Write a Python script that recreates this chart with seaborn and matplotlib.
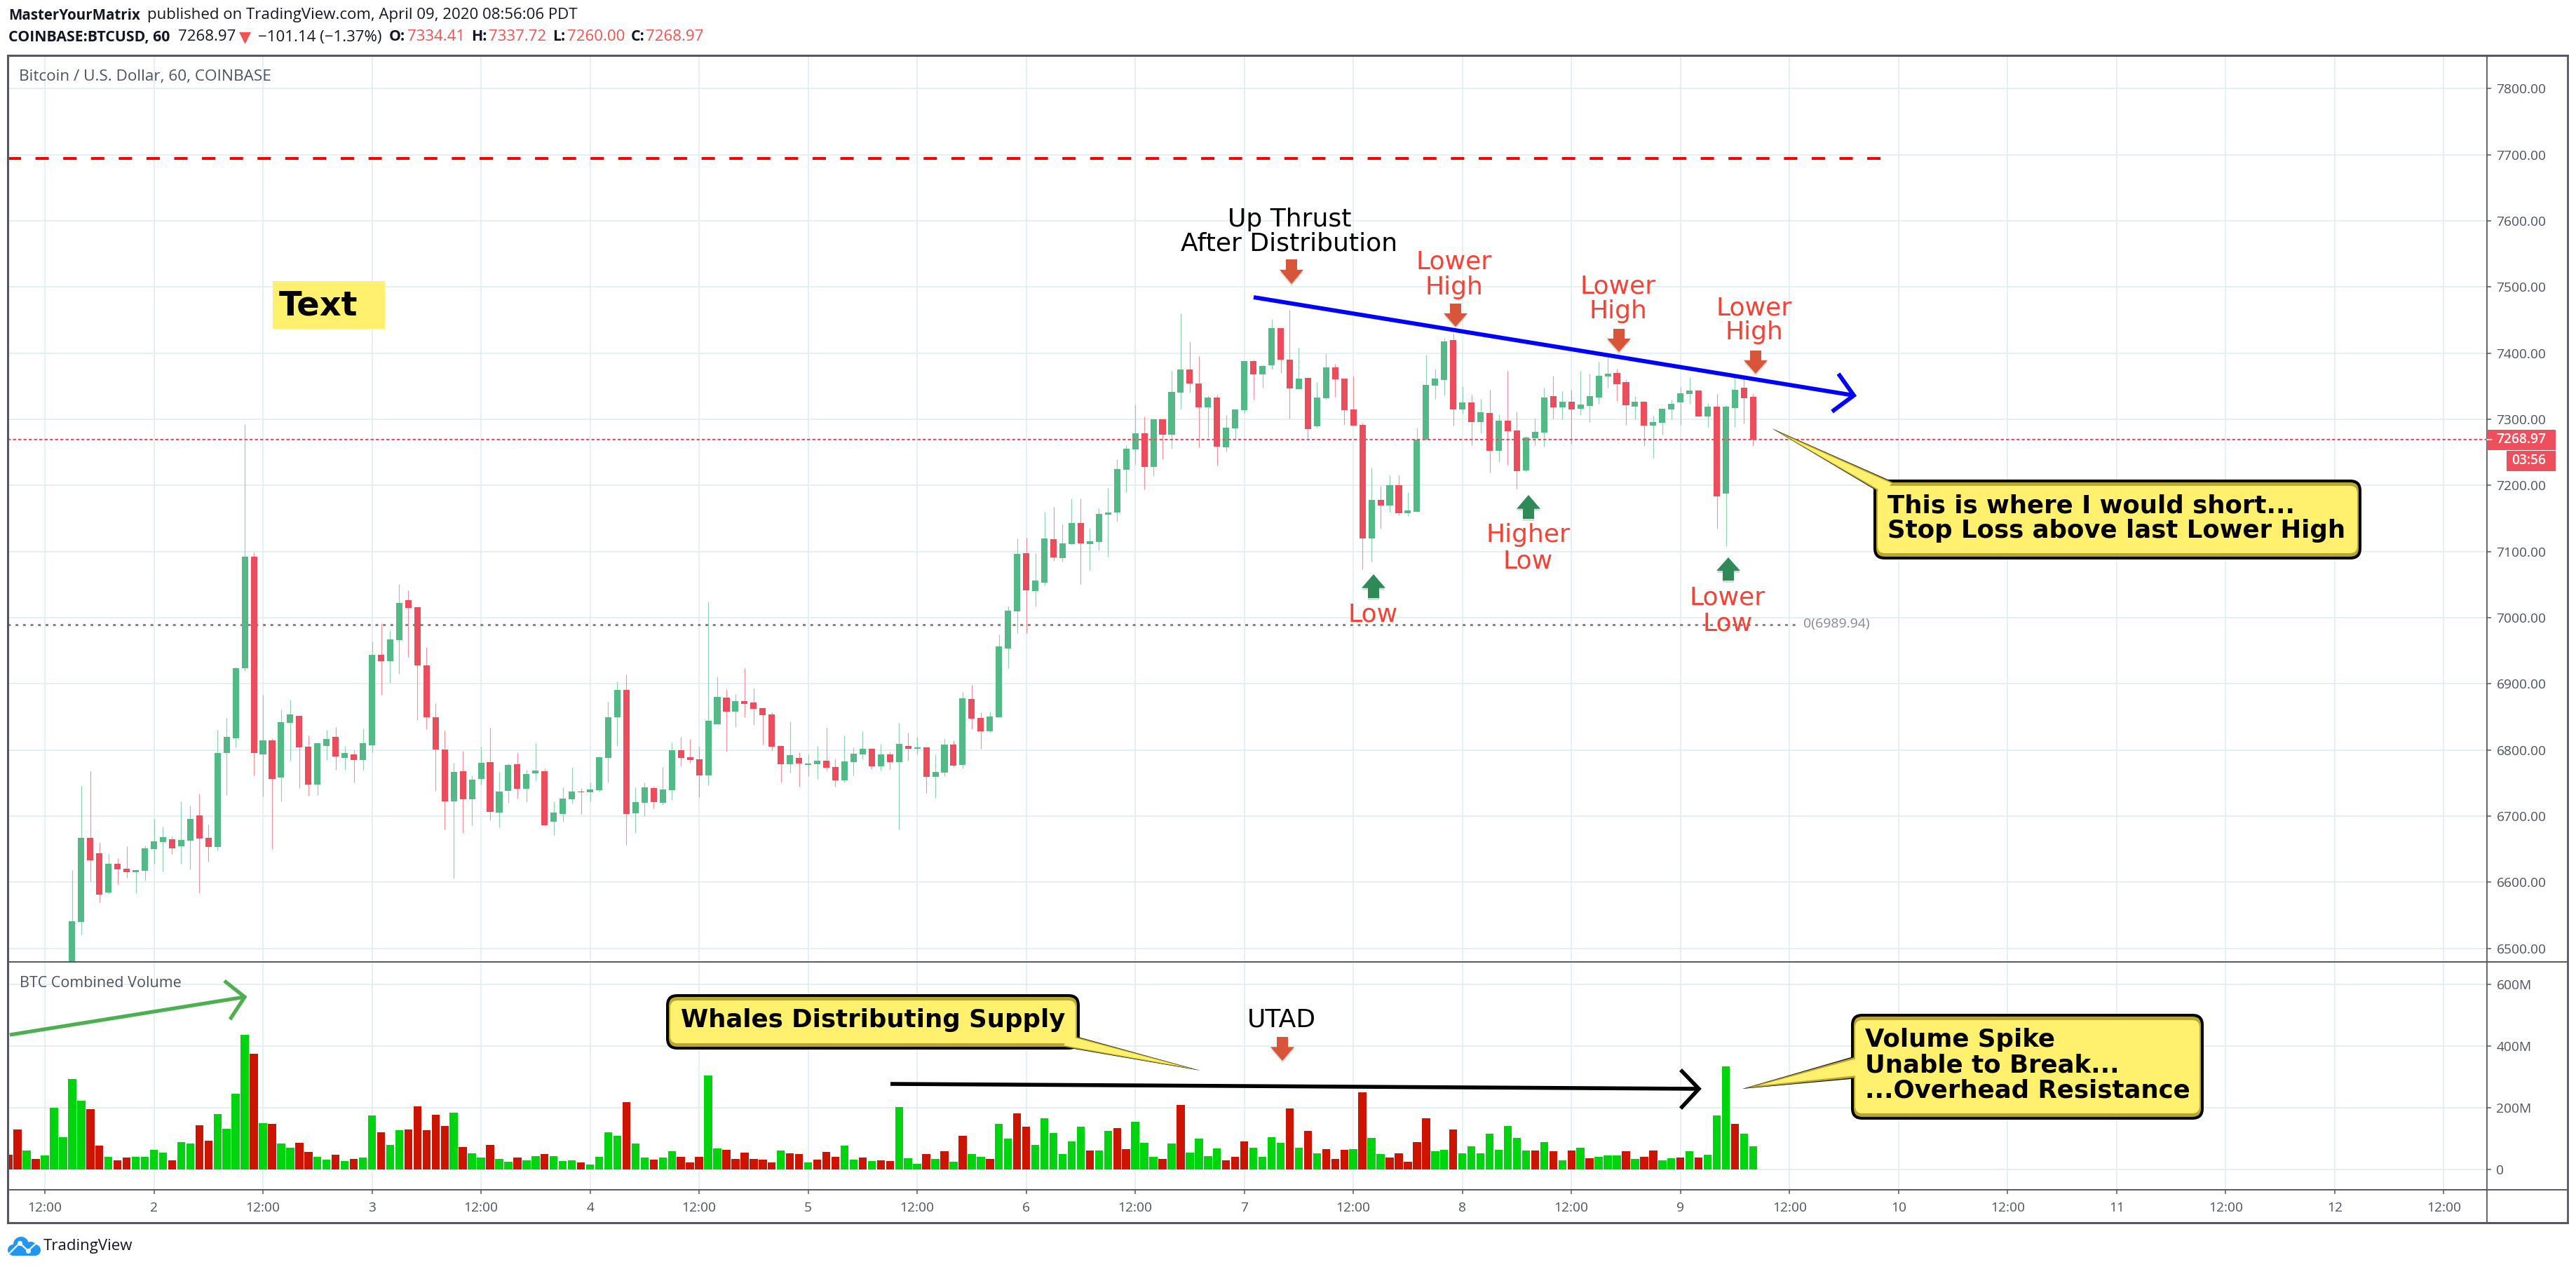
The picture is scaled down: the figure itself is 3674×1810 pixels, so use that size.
import numpy as np
import matplotlib
matplotlib.use("Agg")
import matplotlib.pyplot as plt
import seaborn as sns
from matplotlib.patches import FancyBboxPatch, Polygon, Rectangle, Circle

# hourly candles, hour 0 = day 1 00:00
first_candle_hour = 15
opens = [
    6400, 6540, 6667, 6644, 6585, 6628, 6621, 6615, 6618, 6650,
    6661, 6665, 6655, 6663, 6701, 6667, 6653, 6795, 6818, 6924,
    7092, 6793.6, 6815, 6758.7, 6841, 6852, 6805, 6748, 6806, 6820,
    6788.5, 6793.6, 6785, 6807.7, 6944, 6934.8, 6965.8, 7026.6, 7015.9, 6927.5,
    6849.9, 6800.9, 6722.7, 6768.3, 6725.5, 6756.5, 6781.8, 6705.3, 6738.4, 6779,
    6741.8, 6764.9, 6768.3, 6691.8, 6703.8, 6726, 6737.7, 6736.6, 6739.8, 6788.5,
    6850, 6891.3, 6704.9, 6720.8, 6743, 6720.8, 6739.8, 6800.2, 6789.6, 6786.4,
    6762.1, 6839.4, 6879.6, 6858.4, 6874.3, 6872.2, 6863.7, 6854.2, 6806.5, 6779,
    6788.5, 6778, 6779, 6784.3, 6774.8, 6754.6, 6782.2, 6793.8, 6802.3, 6775.8,
    6793.8, 6782.2, 6806.5, 6802.3, 6804.4, 6760, 6766.3, 6808.7, 6778, 6877.5,
    6848.9, 6828.8, 6850, 6953.7, 7009.6, 7097.7, 7040.6, 7053.1, 7118.8, 7090.1,
    7111.3, 7143, 7111.3, 7114.7, 7155.9, 7158.9, 7223.5, 7254.1, 7278.7, 7227.7,
    7299.9, 7276.4, 7339.9, 7374.7, 7353.5, 7317.6, 7332.4, 7257.5, 7285.9, 7313.5,
    7387.5, 7367.5, 7381.1, 7437.4, 7390.5, 7345.2, 7362.2, 7289.3, 7331.6, 7378.1,
    7361.1, 7314.6, 7291.2, 7120, 7178.2, 7169.5, 7200, 7157.8, 7160, 7268.9,
    7350.5, 7358.8, 7419.3, 7314.6, 7325.9, 7295.9, 7309.9, 7252.2, 7298.2, 7283.3,
    7222.5, 7271.5, 7279.9, 7335.4, 7318.3, 7326.7, 7316, 7320.6, 7333.1, 7365,
    7370.4, 7356.3, 7319.4, 7326.7, 7290.6, 7294.7, 7315.3, 7325.9, 7338.4, 7343.8,
    7304.6, 7319.4, 7187.6, 7317.2, 7347.2, 7334.41,
]
highs = [
    6619, 6746, 6768, 6660, 6643, 6637, 6655, 6620, 6656, 6696,
    6684, 6669, 6722, 6716, 6734, 6687, 6831, 6849, 6926, 7293,
    7098.6, 6883, 6818, 6861.7, 6875.7, 6852, 6822, 6811, 6831, 6835,
    6806.5, 6800, 6833, 6963.5, 6991.7, 6981, 7050.8, 7041, 7016, 6956,
    6871, 6829, 6781, 6799, 6762, 6805.4, 6834, 6766.6, 6780, 6795.8,
    6770.5, 6810.5, 6771.7, 6722.7, 6744, 6774.8, 6743, 6751.5, 6790, 6873.3,
    6904, 6914.6, 6744, 6751.5, 6745, 6774.8, 6811.8, 6820.3, 6817, 6805.5,
    7024.7, 6911.4, 6892.3, 6884.9, 6924.1, 6893.4, 6863.7, 6857.4, 6806.5, 6843.6,
    6797, 6793.8, 6806.5, 6834.1, 6787.5, 6822.4, 6804.4, 6828.8, 6802.3, 6809.7,
    6798, 6841.5, 6826.7, 6820.3, 6804.4, 6793.8, 6817.1, 6815, 6888.1, 6898.7,
    6857.4, 6858.4, 6974.9, 7017.3, 7119.6, 7120.7, 7097.7, 7160, 7167.6, 7141.1,
    7180, 7180, 7135.8, 7165.3, 7195.9, 7239.4, 7260.6, 7321.8, 7304, 7299.9,
    7300, 7372.8, 7460.5, 7418.1, 7395.8, 7335.8, 7336.9, 7305.9, 7314.6, 7387.5,
    7389.8, 7382.2, 7451, 7437.4, 7465.8, 7407.6, 7362.2, 7355.8, 7399.2, 7383.4,
    7361.1, 7365.2, 7294.6, 7226.5, 7199.3, 7215.2, 7215.2, 7189.5, 7287, 7397,
    7375.8, 7423.4, 7429.5, 7350.1, 7337.3, 7331.2, 7344.9, 7306.9, 7372.6, 7311.8,
    7274.2, 7301.2, 7347.9, 7366, 7342.6, 7344.1, 7372.6, 7369.2, 7387.1, 7397,
    7376.8, 7360, 7335.4, 7327, 7305.4, 7316, 7330, 7349, 7363.9, 7344,
    7324.8, 7338.4, 7321, 7363.9, 7365, 7337.72,
]
lows = [
    6380, 6521, 6602, 6570, 6583, 6597, 6607, 6584, 6603, 6628,
    6616, 6643, 6628, 6620, 6585, 6631, 6648, 6732, 6804, 6920,
    6762, 6730, 6650, 6722, 6784, 6743, 6731, 6732, 6785, 6770,
    6770, 6751, 6770, 6797, 6883, 6902, 6915, 6940.5, 6844.8, 6831.9,
    6738.4, 6679.9, 6605.7, 6674.9, 6686, 6748, 6694, 6683.3, 6720.4, 6726.6,
    6721.6, 6754.2, 6686, 6671.5, 6692, 6719.7, 6703.8, 6722.9, 6737.7, 6751.5,
    6806.5, 6657.2, 6675.2, 6700.6, 6712.3, 6717.6, 6725, 6775.8, 6781.1, 6729.2,
    6747.2, 6839.4, 6798, 6835.1, 6850, 6838.3, 6808.7, 6799.1, 6751.5, 6766.3,
    6745.1, 6761, 6756.8, 6769.5, 6745.1, 6751.5, 6762.1, 6786.4, 6771.6, 6769.5,
    6771.6, 6680.5, 6784.3, 6793.8, 6735.6, 6728.2, 6761, 6774.8, 6772.7, 6832,
    6802.3, 6826.7, 6850, 6924.1, 6977.1, 6977.1, 7017.2, 7048.9, 7086, 7084.8,
    7110.5, 7051.2, 7072.4, 7101.8, 7092.4, 7145.7, 7189.9, 7231.8, 7194, 7214,
    7239.4, 7255.3, 7314.6, 7339.9, 7257.5, 7272.3, 7229.9, 7251.1, 7268.9, 7309.7,
    7329.3, 7347.5, 7375.8, 7369.4, 7300.6, 7345.2, 7269.6, 7287, 7329.3, 7333.5,
    7291.2, 7290, 7073.1, 7084.8, 7134.7, 7160, 7154.7, 7154, 7160, 7268.1,
    7330.5, 7335.8, 7290, 7308.5, 7260.9, 7278.8, 7219.5, 7235.5, 7230.9, 7194.8,
    7220.3, 7260.9, 7258.6, 7301.2, 7300, 7262.8, 7306.5, 7295.9, 7323.6, 7348,
    7327.8, 7291.7, 7300, 7259.8, 7241.2, 7276.9, 7300, 7291.7, 7323.6, 7304,
    7288.7, 7135.1, 7108.5, 7288.7, 7293.6, 7260.0,
]
closes = [
    6541.5, 6667, 6633, 6581, 6628, 6620, 6615, 6619, 6651, 6662,
    6668, 6651, 6664, 6696, 6666, 6653, 6796, 6819.5, 6923.6, 7092,
    6796, 6815, 6756.5, 6842.6, 6854, 6804, 6748, 6810, 6817, 6790,
    6796, 6785, 6810.5, 6944, 6934, 6967, 7022, 7014.7, 6927.5, 6849.9,
    6800.3, 6722.7, 6767, 6725.5, 6755.3, 6781, 6706.4, 6737.3, 6777.8, 6741.8,
    6763.8, 6769.4, 6686.1, 6705, 6727, 6737.7, 6736.6, 6740.9, 6789.6, 6850,
    6891.3, 6703.8, 6721.8, 6744, 6721.8, 6740.9, 6800.2, 6788.5, 6785.4, 6762.1,
    6844.7, 6880.7, 6858.4, 6874.3, 6870.1, 6862.7, 6853.1, 6805.5, 6779, 6792.8,
    6780, 6780, 6784.3, 6773.7, 6754.6, 6783.2, 6794.9, 6802.3, 6775.8, 6793.8,
    6782.2, 6809.7, 6802.3, 6804.4, 6760, 6767.4, 6808.7, 6776.9, 6878.6, 6847.8,
    6828.8, 6851, 6956.9, 7010.8, 7096.6, 7041.4, 7056.5, 7120, 7091.2, 7112.4,
    7143, 7112.4, 7115.4, 7157, 7158.9, 7224.7, 7255.3, 7278.7, 7227.7, 7299.9,
    7276.4, 7341, 7374.7, 7353.5, 7317.6, 7332.4, 7258.3, 7287, 7314.6, 7387.5,
    7367.5, 7380, 7437.4, 7390.5, 7346.3, 7361.1, 7284.7, 7332.4, 7378.1, 7359.9,
    7313.5, 7290, 7120, 7178.2, 7169.5, 7200, 7157.8, 7162.3, 7268.9, 7351.6,
    7361.1, 7418.1, 7314.6, 7325.2, 7295.9, 7310.7, 7252.2, 7298.2, 7282.2, 7221.4,
    7272.7, 7281, 7333.1, 7318.3, 7326.7, 7315.3, 7322.5, 7335.4, 7366, 7369.2,
    7353.3, 7321.3, 7326.7, 7290.6, 7295.9, 7316, 7323.6, 7339.6, 7343.8, 7304.6,
    7319.4, 7183, 7319.4, 7344.9, 7332, 7268.97,
]

# volume bars in millions, from hour 8
first_volume_hour = 8
volumes = [
    48, 129, 61, 33, 46, 201, 104, 293, 223, 195,
    78, 42, 30, 39, 40, 41, 64, 55, 29, 89,
    83, 144, 94, 180, 131, 245, 436, 374, 151, 148,
    83, 70, 87, 56, 42, 31, 47, 27, 35, 39,
    176, 120, 80, 128, 130, 204, 128, 178, 142, 183,
    73, 52, 38, 80, 35, 26, 38, 30, 44, 50,
    44, 28, 30, 23, 17, 42, 121, 110, 219, 83,
    39, 31, 38, 58, 40, 22, 42, 305, 69, 64,
    33, 55, 33, 31, 23, 62, 53, 49, 23, 31,
    56, 42, 78, 32, 38, 27, 29, 27, 203, 37,
    18, 49, 33, 58, 24, 109, 50, 42, 35, 147,
    100, 182, 139, 80, 167, 118, 49, 90, 138, 62,
    62, 125, 133, 67, 154, 87, 42, 35, 85, 209,
    54, 100, 44, 69, 30, 42, 92, 70, 40, 105,
    86, 197, 71, 125, 53, 66, 35, 63, 67, 249,
    102, 49, 38, 52, 24, 89, 165, 58, 64, 130,
    53, 74, 52, 115, 64, 142, 103, 61, 62, 88,
    58, 29, 61, 70, 36, 41, 46, 46, 60, 35,
    41, 62, 30, 36, 39, 60, 38, 47, 176, 335,
    148, 116, 75,
]
volume_dirs = list(
    "RRGRGGGGGR" "RGRRGGGGRG" "GRRGGGGRGR" "GGRRGGRGRG"
    "GRGGRRRRRG" "RGGRGGRGGR" "GGGRGGGGRG" "GRGGRRRGGR"
    "RRRRRGRRGR" "RRGGRGRRGG" "GRGRGRGGRG" "GRRGGGGGGR"
    "GGRRGGGRGR" "GGGGRRRGGG" "GRGRGRRRGR" "GGRRRRRGGR"
    "GGGGGGGGRG" "RGRGRGGGRG" "RRGGRGRGGG" "RGG"
)

price_ticks = [7800, 7700, 7600, 7500, 7400, 7300, 7200, 7100, 7000, 6900, 6800, 6700, 6600, 6500]
volume_ticks = [600, 400, 200, 0]
volume_tick_labels = ["600M", "400M", "200M", "0"]
time_ticks = list(range(12, 277, 12))
time_labels = ["12:00", "2", "12:00", "3", "12:00", "4", "12:00", "5", "12:00", "6", "12:00", "7",
               "12:00", "8", "12:00", "9", "12:00", "10", "12:00", "11", "12:00", "12", "12:00"]
resistance_level = 7694
fib_level = 6989.94
last_close = 7268.97

GREEN = "#53b987"
RED = "#eb4d5c"
GRID = "#e1ecf2"
FRAME = "#555860"
LABEL = "#4c525e"
YELLOW = "#fff06e"
OLIVE = "#b9a72f"
NOTE_RED = "#f44336"

W, H = 3674, 1810
AXIS_X = 3546.5
FRAME_R = 3662
sns.set_theme(style="white")
plt.rcParams["font.family"] = ["Open Sans", "DejaVu Sans"]
plt.rcParams["lines.scale_dashes"] = False


def px_axes(fig, x0, y0, x1, y1):
    return fig.add_axes([x0 / W, 1 - y1 / H, (x1 - x0) / W, (y1 - y0) / H])


def draw_candles(ax):
    n = len(closes)
    hours = first_candle_hour + np.arange(n)
    up = np.array(closes) >= np.array(opens)
    colors = np.where(up, GREEN, RED)
    wick_colors = np.where(up, "#8fd0b0", "#f3929c")
    ax.vlines(hours, lows, highs, colors=wick_colors, lw=0.85, zorder=3)
    ax.bar(hours, np.abs(np.array(closes) - np.array(opens)), width=0.7,
           bottom=np.minimum(opens, closes), color=colors, linewidth=0, zorder=4)


def down_arrow(ov, cx, y0, y1, color):
    # block arrow with a soft shadow; tip at y1
    h = y1 - y0
    w = 17
    shaft = 8
    pts = np.array([(cx - shaft, y0), (cx + shaft, y0), (cx + shaft, y0 + 0.42 * h), (cx + w, y0 + 0.42 * h),
                    (cx, y1), (cx - w, y0 + 0.42 * h), (cx - shaft, y0 + 0.42 * h)])
    ov.add_patch(Polygon(pts + [0, 3], closed=True, fc="#00000022", ec="none", zorder=6))
    ov.add_patch(Polygon(pts, closed=True, fc=color, ec="none", zorder=7))


def up_arrow(ov, cx, y0, y1, color):
    # tip at y0
    h = y1 - y0
    w = 17
    shaft = 8
    pts = np.array([(cx, y0), (cx + w, y0 + 0.58 * h), (cx + shaft, y0 + 0.58 * h), (cx + shaft, y1),
                    (cx - shaft, y1), (cx - shaft, y0 + 0.58 * h), (cx - w, y0 + 0.58 * h)])
    ov.add_patch(Polygon(pts + [0, 3], closed=True, fc="#00000022", ec="none", zorder=6))
    ov.add_patch(Polygon(pts, closed=True, fc=color, ec="none", zorder=7))


def pen_arrow(ov, start, tip, wing_a, wing_b, color, lw):
    ov.plot([start[0], tip[0]], [start[1], tip[1]], color=color, lw=lw, solid_capstyle="butt", zorder=8)
    ov.plot([wing_a[0], tip[0], wing_b[0]], [wing_a[1], tip[1], wing_b[1]], color=color, lw=lw,
            solid_capstyle="butt", solid_joinstyle="miter", zorder=8)


def callout(ov, box, tail, lines, text_x, line_ys, size):
    x0, y0, x1, y1 = box
    a, tip, b = [np.array(p, dtype=float) for p in tail]
    mid = (a + b) / 2

    def rbox(inx, iny, color, z):
        ov.add_patch(FancyBboxPatch((x0 + inx, y0 + iny), x1 - x0 - 2 * inx, y1 - y0 - 2 * iny,
                                    boxstyle="round,pad=0,rounding_size=%d" % max(16 - inx, 6),
                                    fc=color, ec="none", zorder=z))

    def rtail(scale, base, color, z):
        inner = mid + (np.array([(x0 + x1) / 2, (y0 + y1) / 2]) - mid) * 0.03
        ov.add_patch(Polygon([inner + (a - mid) * base, mid + (tip - mid) * scale, inner + (b - mid) * base],
                             closed=True, fc=color, ec="none", zorder=z))

    rbox(0, 0, "black", 9)
    rtail(1.0, 1.0, "black", 9)
    rbox(4, 4, OLIVE, 10)
    rtail(0.97, 0.92, OLIVE, 10)
    rbox(6, 9, YELLOW, 11)
    rtail(0.86, 0.74, YELLOW, 11)
    for line, y in zip(lines, line_ys):
        ov.text(text_x, y, line, family="DejaVu Sans", fontweight="bold", fontsize=size, color="black",
                va="center", ha="left", zorder=12)


def draw_overlay(ov):
    # frame pieces outside the two panes
    for xs, ys, lw in [([11, FRAME_R], [79, 79], 2.2), ([11, FRAME_R], [1744, 1744], 2.2),
                       ([11, 11], [79, 1744], 2.2), ([FRAME_R, FRAME_R], [79, 1744], 2.0),
                       ([AXIS_X, AXIS_X], [79, 1744], 1.3), ([11, FRAME_R], [1372, 1372], 1.4),
                       ([11, FRAME_R], [1697, 1697], 1.4)]:
        ov.plot(xs, ys, color=FRAME, lw=lw, solid_capstyle="projecting", zorder=5)

    # header
    hdr = 16
    hdr_bold = 15.3
    ink = "#131722"
    ov.text(12, 22, "MasterYourMatrix", fontsize=14.8, fontweight="bold", color=ink, va="center")
    ov.text(210, 22, "published on TradingView.com, April 09, 2020 08:56:06 PDT", fontsize=hdr, color=ink, va="center")
    ov.text(12, 53, "COINBASE:BTCUSD, 60", fontsize=hdr_bold, fontweight="bold", color=ink, va="center")
    ov.text(254, 53, "7268.97", fontsize=hdr, color=ink, va="center")
    ov.text(341, 53, "▼", fontsize=hdr, family="DejaVu Sans", color="#ef5350", va="center")
    ov.text(368, 53, "−101.14 (−1.37%)", fontsize=hdr, color=ink, va="center")
    for lx, lab, vx, val in [(555, "O:", 581, "7334.41"), (672, "H:", 697, "7337.72"),
                             (788, "L:", 809, "7260.00"), (900, "C:", 921, "7268.97")]:
        ov.text(lx, 53, lab, fontsize=hdr_bold, fontweight="bold", color=ink, va="center")
        ov.text(vx, 53, val, fontsize=hdr, color="#ef5350", va="center")

    ov.text(27, 109, "Bitcoin / U.S. Dollar, 60, COINBASE", fontsize=16.2, color=LABEL, va="center")
    ov.text(28, 1402, "BTC Combined Volume", fontsize=15.5, color=LABEL, va="center")

    # last price tags
    ov.add_patch(Rectangle((AXIS_X, 613), 3645 - AXIS_X, 29, fc="#ee4f5d", ec="none", zorder=6))
    ov.add_patch(Rectangle((3575, 643), 70, 29, fc="#ee4f5d", ec="none", zorder=6))
    ov.plot([AXIS_X, AXIS_X + 7], [627.5, 627.5], color="white", lw=1.1, zorder=7)
    ov.text(3631, 627, "7268.97", fontsize=13.8, fontweight="semibold", color="white", ha="right", va="center", zorder=7)
    ov.text(3631, 657, "03:56", fontsize=13.8, fontweight="semibold", color="white", ha="right", va="center", zorder=7)
    ov.text(2572, 890, "0(6989.94)", fontsize=14, color="#868993", va="center")

    # sticky "Text" label
    ov.add_patch(Rectangle((389, 401), 160, 68, fc=YELLOW, ec="none", zorder=6))
    ov.text(398, 436, "Text", family="DejaVu Sans", fontweight="bold", fontsize=34.5, color="black", va="center", zorder=7)

    # chart notes
    note = 26
    dj = "DejaVu Sans"
    ov.text(1839, 313, "Up Thrust", family=dj, fontsize=note, color="black", ha="center", va="center", zorder=7)
    ov.text(1839, 348, "After Distribution", family=dj, fontsize=note, color="black", ha="center", va="center", zorder=7)
    ov.text(1828, 1454, "UTAD", family=dj, fontsize=note, color="black", ha="center", va="center", zorder=7)
    for cx, y1, y2, a, b in [(2074, 373, 410, "Lower", "High"), (2308, 408, 444, "Lower", "High"),
                             (2502, 439, 474, "Lower", "High"), (2179, 763, 800, "Higher", "Low"),
                             (2464, 852, 889, "Lower", "Low")]:
        ov.text(cx, y1, a, family=dj, fontsize=note, color=NOTE_RED, ha="center", va="center", zorder=7)
        ov.text(cx, y2, b, family=dj, fontsize=note, color=NOTE_RED, ha="center", va="center", zorder=7)
    ov.text(1958, 876, "Low", family=dj, fontsize=note, color=NOTE_RED, ha="center", va="center", zorder=7)

    for cx, y0, y1 in [(1842, 370, 405), (2076, 433, 466), (2309, 469, 502), (2504, 500, 533), (1829, 1479, 1513)]:
        down_arrow(ov, cx, y0, y1, "#d9553a")
    for cx, y0, y1 in [(1959, 819, 853), (2180, 706, 740), (2465, 795, 828)]:
        up_arrow(ov, cx, y0, y1, "#2e8b57")

    pen_arrow(ov, (1788, 424), (2644, 564), (2622, 533), (2613, 587), "#0000ff", 4.3)
    pen_arrow(ov, (14, 1476), (349, 1422), (320, 1399), (328, 1454), "#4caf50", 3.8)
    pen_arrow(ov, (1270, 1546), (2423, 1553), (2397, 1526), (2397, 1581), "black", 4.0)

    callout(ov, (2672, 684, 3368, 798), [(2690, 686), (2527, 611), (2674, 703)],
            ["This is where I would short...", "Stop Loss above last Lower High"], 2692, [721, 757], 25.6)
    callout(ov, (950, 1418, 1540, 1497), [(1536, 1477), (1712, 1527), (1524, 1494)],
            ["Whales Distributing Supply"], 971, [1455], 25.6)
    callout(ov, (2640, 1446, 3143, 1597), [(2643, 1505), (2485, 1553), (2643, 1538)],
            ["Volume Spike", "Unable to Break...", "...Overhead Resistance"], 2660, [1483, 1519, 1555], 25.6)

    # logo
    blue = "#2196f3"
    ov.add_patch(Circle((30, 1775), 11, fc=blue, ec="none"))
    ov.add_patch(Circle((19, 1783), 8, fc=blue, ec="none"))
    ov.add_patch(Circle((44, 1779), 8, fc=blue, ec="none"))
    ov.add_patch(Circle((50, 1783), 8, fc=blue, ec="none"))
    ov.add_patch(Rectangle((19, 1778), 31, 13, fc=blue, ec="none"))
    ov.plot([13, 28, 40, 52], [1788, 1773, 1784, 1773], color="white", lw=1.6, zorder=6)
    ov.plot([28, 40], [1773, 1784], "o", color="white", ms=4, zorder=6)
    ov.text(62, 1777, "TradingView", fontsize=16, color=ink, va="center")


def main():
    fig = plt.figure(figsize=(W / 100, H / 100), dpi=100, facecolor="white")
    ax = px_axes(fig, 11, 79, AXIS_X, 1372)
    ax_vol = px_axes(fig, 11, 1372, AXIS_X, 1697)

    hour_min, hour_max = 7.91, 280.72

    # price pane
    draw_candles(ax)
    ax.axhline(resistance_level, xmin=0, xmax=0.757, color="#ff0000", lw=2.9,
               linestyle=(0, (13.7, 14.8)), zorder=5)
    ax.axhline(last_close, color="#ef5060", lw=1.5, linestyle=(0, (3.2, 2.2)), zorder=5)
    ax.axhline(fib_level, xmin=0, xmax=0.7228, color="#808080", lw=2.1, linestyle=(0, (2.8, 4.9)), zorder=2)
    ax.set_xlim(hour_min, hour_max)
    ax.set_ylim(6479.7, 7850)
    ax.set_yticks(price_ticks)
    ax.set_yticklabels(["%.2f" % p for p in price_ticks])
    ax.yaxis.tick_right()
    ax.set_xticks(time_ticks)
    ax.tick_params(axis="x", bottom=False, labelbottom=False)
    ax.tick_params(axis="y", right=True, length=5, width=1.1, color=FRAME, labelsize=13.8, labelcolor=LABEL, pad=5)
    ax.grid(True, color=GRID, lw=1.2, zorder=0)
    ax.set_axisbelow(True)

    # volume pane
    sns.barplot(x=first_volume_hour + np.arange(len(volumes)), y=volumes, hue=volume_dirs,
                palette={"G": "#00d40e", "R": "#cc1400"}, native_scale=True, dodge=False, width=0.88,
                errorbar=None, saturation=1, linewidth=0, legend=False, ax=ax_vol, zorder=3)
    ax_vol.set_xlim(hour_min, hour_max)
    ax_vol.set_ylim(-65.9, 672.7)
    ax_vol.set_yticks(volume_ticks)
    ax_vol.set_yticklabels(volume_tick_labels)
    ax_vol.yaxis.tick_right()
    ax_vol.set_xticks(time_ticks)
    ax_vol.set_xticklabels(time_labels)
    ax_vol.set_xlabel("")
    ax_vol.set_ylabel("")
    ax_vol.tick_params(axis="x", bottom=True, length=4.5, width=1.1, color=FRAME, labelsize=13.8, labelcolor=LABEL, pad=8)
    ax_vol.tick_params(axis="y", right=True, length=5, width=1.1, color=FRAME, labelsize=13.8, labelcolor=LABEL, pad=5)
    ax_vol.grid(True, color=GRID, lw=1.2, zorder=0)
    ax_vol.set_axisbelow(True)

    for a in (ax, ax_vol):
        for s in a.spines.values():
            s.set_visible(False)

    # overlay in figure pixels for the drawn-on notes
    ov = fig.add_axes([0, 0, 1, 1], facecolor="none")
    ov.set_xlim(0, W)
    ov.set_ylim(H, 0)
    ov.axis("off")
    draw_overlay(ov)

    fig.savefig("out.png", dpi=100)
    plt.close(fig)


if __name__ == "__main__":
    main()
